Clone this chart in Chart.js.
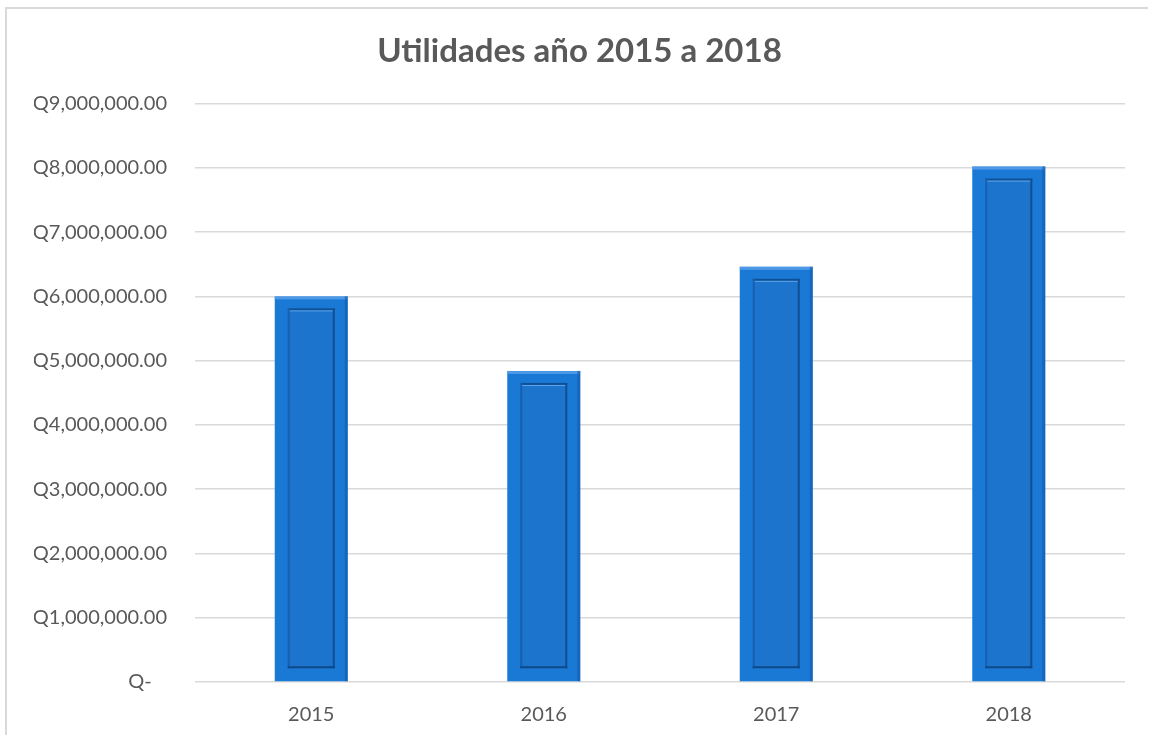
<!DOCTYPE html>
<html>
<head>
<meta charset="utf-8">
<script src="https://cdn.jsdelivr.net/npm/chart.js@4.4.0/dist/chart.umd.min.js"></script>
<style>
  html, body { margin: 0; padding: 0; background: #fff; }
  #wrap { width: 1149px; height: 735px; position: relative; }
</style>
</head>
<body>
<div id="wrap"><canvas id="myChart" width="1149" height="735"></canvas></div>
<script>
// datos
const years = ['2015', '2016', '2017', '2018'];
const utilidades = [6000000, 4840000, 6460000, 8020000];
const titulo = 'Utilidades año 2015 a 2018';

function formatoQ(v) {
    if (v == 0) return 'Q-   ';
    return 'Q' + v.toLocaleString('en-US', { minimumFractionDigits: 2, maximumFractionDigits: 2 });
}

// marco gris alrededor del grafico
const marco = {
    id: 'marco',
    beforeDraw(chart) {
        const c = chart.ctx;
        c.save();
        c.fillStyle = '#fff';
        c.fillRect(0, 0, chart.width, chart.height);
        c.strokeStyle = '#d9d9d9';
        c.lineWidth = 2;
        c.beginPath();
        c.moveTo(6, chart.height);
        c.lineTo(6, 8);
        c.lineTo(chart.width - 1, 8);
        c.stroke();
        c.restore();
    }
};

// efecto bisel de las barras (estilo excel)
const bisel = {
    id: 'bisel',
    afterDatasetsDraw(chart) {
        const c = chart.ctx;
        chart.getDatasetMeta(0).data.forEach(bar => {
            const w = bar.width;
            const left = bar.x - w / 2, right = bar.x + w / 2;
            const top = bar.y, bottom = bar.base;
            const ix = 13, it = 12, ib = 13;
            c.save();
            // borde exterior: luz arriba/izq
            c.fillStyle = 'rgba(90,160,235,0.8)';
            c.fillRect(left, top, w, 3);
            c.fillStyle = 'rgba(20,90,170,0.6)';
            c.fillRect(right - 3, top, 3, bottom - top);
            // rectangulo interior
            const x0 = left + ix, x1 = right - ix, y0 = top + it, y1 = bottom - ib;
            c.fillStyle = '#1c74cd';
            c.fillRect(x0, y0, x1 - x0, y1 - y0);
            c.fillStyle = '#0f4f93';
            c.fillRect(x0, y0, x1 - x0, 2);
            c.fillRect(x1 - 2, y0, 2, y1 - y0);
            c.fillStyle = '#5da4ea';
            c.fillRect(x0, y0 + 2, x1 - x0 - 2, 1);
            c.fillStyle = '#1560b0';
            c.fillRect(x0, y0, 2, y1 - y0);
            c.fillStyle = '#0d4888';
            c.fillRect(x0, y1 - 2, x1 - x0, 2);
            c.restore();
        });
    }
};

const ctx = document.getElementById('myChart').getContext('2d');
const myChart = new Chart(ctx, {
    type: 'bar',
    data: {
        labels: years,
        datasets: [{
            data: utilidades,
            backgroundColor: '#1b79d6',
            borderWidth: 0,
            barPercentage: 0.314,
            categoryPercentage: 1.0
        }]
    },
    options: {
        responsive: false,
        animation: false,
        layout: { padding: { left: 34, right: 24, top: 12, bottom: 0 } },
        plugins: {
            legend: { display: false },
            tooltip: { enabled: false },
            title: {
                display: true,
                text: titulo,
                color: '#595959',
                font: { family: 'Lato', size: 33, weight: 'bold' },
                padding: { top: 20, bottom: 32 }
            }
        },
        scales: {
            x: {
                grid: { display: false, drawTicks: false },
                border: { display: false },
                afterFit: scale => { scale.height = 53; },
                ticks: {
                    color: '#595959',
                    font: { family: 'Lato', size: 20 },
                    padding: 21
                }
            },
            y: {
                min: 0,
                max: 9000000,
                grid: { color: '#d9d9d9', lineWidth: 1.5, drawTicks: false },
                border: { display: false },
                afterFit: scale => { scale.width = 161; },
                ticks: {
                    stepSize: 1000000,
                    color: '#595959',
                    font: { family: 'Lato', size: 20 },
                    padding: 28,
                    callback: v => formatoQ(v)
                }
            }
        }
    },
    plugins: [marco, bisel]
});
</script>
</body>
</html>
